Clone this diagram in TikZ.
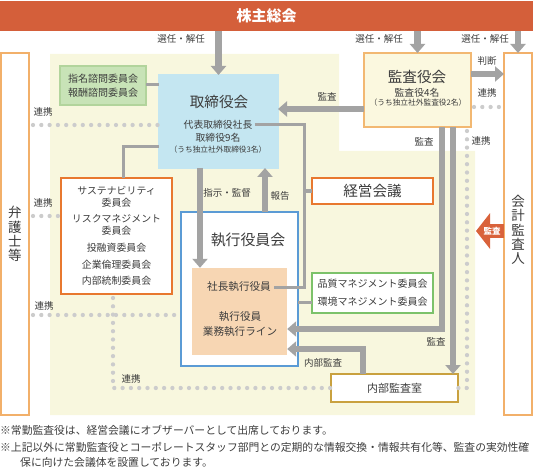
\documentclass[tikz,border=0pt]{standalone}
\usepackage{fontspec}
\setmainfont{Noto Sans CJK JP}
\usetikzlibrary{arrows.meta,calc}
\definecolor{topbar}{HTML}{D45F3A}
\definecolor{txt}{HTML}{3C3C3C}
\definecolor{bgy}{HTML}{F8F7DE}
\definecolor{ora}{HTML}{E8782F}
\definecolor{lora}{HTML}{F2B06A}
\definecolor{kfill}{HTML}{FBF8DF}
\definecolor{kbord}{HTML}{F2B872}
\definecolor{gfill}{HTML}{C8E3B7}
\definecolor{gbord}{HTML}{B2D49C}
\definecolor{gline}{HTML}{7CC26A}
\definecolor{bfill}{HTML}{C4E6F1}
\definecolor{bbord}{HTML}{5B9BD5}
\definecolor{peach}{HTML}{F7D6B3}
\definecolor{gold}{HTML}{C9A13F}
\definecolor{garr}{HTML}{A3A3A3}
\definecolor{dotc}{HTML}{CCCCCC}
\definecolor{acc}{HTML}{D9623B}
\begin{document}
\begin{tikzpicture}[x=1pt,y=-1pt,
  bx/.style={draw, line width=1.2pt, inner sep=0pt, outer sep=0pt},
  lbl/.style={font=\fontsize{9.5}{11}\selectfont, text=txt, inner sep=0pt},
  ttl/.style={font=\fontsize{14.6}{16}\selectfont, text=txt, inner sep=0pt},
  sml/.style={font=\fontsize{9.8}{12}\selectfont, text=txt, inner sep=0pt},
  tiny/.style={font=\fontsize{7.7}{9}\selectfont, text=txt, inner sep=0pt},
  garrow/.style={draw=garr, line width=6.5pt, -{Triangle[width=15pt,length=9pt]}},
  gline/.style={draw=garr, line width=6pt},
  conn/.style={draw=garr, line width=3pt},
  dots/.style={draw=dotc, line width=4.3pt, line cap=round, dash pattern=on 0pt off 8.3pt},
  note/.style={font=\fontsize{10.8}{13}\selectfont, text=txt, inner sep=0pt, anchor=west}
]
\useasboundingbox (0,0) rectangle (533,476);
% background
\fill[bgy] (50,54) -- (339,54) -- (339,151) -- (475,151) -- (475,415) -- (50,415) -- cycle;

% top bar
\node[fill=topbar, inner sep=0pt, minimum width=533pt, minimum height=30pt, text=white,
  font=\fontsize{15}{17}\selectfont\bfseries] (kabu) at (266.5,16) {株主総会};

% outer boxes
\node[bx, draw=lora, fill=white, minimum width=28pt, minimum height=362pt,
  align=center, font=\fontsize{13.5}{14.2}\selectfont, text=txt] (bengo) at (15,234) {弁\\護\\士\\等};
\node[bx, draw=lora, fill=white, minimum width=28pt, minimum height=362pt] (kaikei) at (518,234) {};
\node[align=center, font=\fontsize{13.5}{14.2}\selectfont, text=txt, inner sep=0pt] (kaikeiT) at (518,230) {会\\計\\監\\査\\人};

% boxes
\node[bx, draw=gbord, fill=gfill, minimum width=86pt, minimum height=39pt,
  align=center, font=\fontsize{10}{14}\selectfont, text=txt] (shimei) at (103,85.5) {指名諮問委員会\\報酬諮問委員会};
\node[bx, draw=bfill, fill=bfill, minimum width=119pt, minimum height=93pt] (tori) at (218.5,121.5) {};
\node[ttl] (toriT) at (219,102) {取締役会};
\node[sml] (daihyo) at (218,124.5) {代表取締役社長};
\node[sml] (tori9) at (218,138) {取締役9名};
\node[tiny] (tori3) at (218,150) {（うち独立社外取締役3名）};

\node[bx, draw=kbord, fill=kfill, minimum width=107pt, minimum height=74pt] (kansa) at (417.5,90) {};
\node[ttl] (kansaT) at (417,77) {監査役会};
\node[sml] (kansa4) at (417,93) {監査役4名};
\node[tiny] (kansa2) at (418,103) {（うち独立社外監査役2名）};

\node[bx, draw=ora, fill=white, minimum width=111pt, minimum height=116pt,
  align=center, font=\fontsize{9.9}{12}\selectfont, text=txt] (sus) at (116.5,236)
  {サステナビリティ\\委員会\\[4.2pt]リスクマネジメント\\委員会\\[4.6pt]投融資委員会\\[4.6pt]企業倫理委員会\\[4.6pt]内部統制委員会};

\node[bx, draw=ora, fill=white, minimum width=121pt, minimum height=26pt, ttl] (keiei) at (372.5,191) {経営会議};

\node[bx, draw=bbord, fill=white, minimum width=117pt, minimum height=154pt] (shikkou) at (239.5,289) {};
\node[font=\fontsize{14.9}{16}\selectfont, text=txt, inner sep=0pt] (shikkouT) at (248,240) {執行役員会};
\node[fill=peach, inner sep=0pt, minimum width=95pt, minimum height=87pt] (peach) at (239.5,311.5) {};
\node[font=\fontsize{10.6}{12}\selectfont, text=txt, inner sep=0pt] (shacho) at (239,287) {社長執行役員};
\node[font=\fontsize{10.6}{15}\selectfont, text=txt, inner sep=0pt, align=center] (gyomu) at (240,324.5) {執行役員\\業務執行ライン};

\node[bx, draw=gline, fill=white, minimum width=121pt, minimum height=40pt,
  align=center, font=\fontsize{10}{18}\selectfont, text=txt] (hin) at (372.5,293) {品質マネジメント委員会\\環境マネジメント委員会};

\node[bx, draw=gold, fill=white, minimum width=127pt, minimum height=28pt,
  font=\fontsize{11}{13}\selectfont, text=txt] (naibu) at (394.5,388) {内部監査室};

% dotted links
\draw[dots] ($(bengo.east |- 0,125)+(4,0)$) -- (tori.west |- 0,125);
\draw[dots] ($(bengo.east |- 0,216)+(4,0)$) -- (sus.west |- 0,216);
\draw[dots] ($(bengo.east |- 0,315)+(4,0)$) -- (shikkou.west |- 0,315);
\draw[dots] ($(sus.south -| 113,0)+(0,4)$) -- (113,388) -- (naibu.west |- 0,388);
\draw[dots] ($(kansa.south -| 467,0)+(0,4)$) -- (467,388) -- (naibu.east |- 0,388);
\draw[dots] ($(kansa.east |- 0,107)+(3,0)$) -- (kaikei.west |- 0,107);

% thin connectors
\draw[conn] (shimei.east |- 0,85) -- (tori.west |- 0,85);
\draw[conn] (sus.north -| 123,0) -- (123,147) -- (tori.west |- 0,147);
\draw[conn] ([xshift=2pt]daihyo.east) -| (shacho.east -| 304,0) -- ([xshift=3pt]shacho.east);
\draw[conn] (keiei.west -| 304,0) -- (keiei.west);
\draw[conn] (shikkou.east |- 0,302) -- (hin.west |- 0,302);

% thick gray arrows
\draw[garrow] (kabu.south -| tori.north) -- (tori.north);
\draw[garrow] (kabu.south -| kansa.north) -- (kansa.north);
\draw[garrow] (kabu.south -| kaikei.north) -- (kaikei.north);
\draw[garrow] (kansa.west |- 0,109) -- (tori.east |- 0,109);
\draw[garrow] (kansa.east |- 0,74) -- (kaikei.west |- 0,74);
\draw[garrow] (tori.south -| 200,0) -- (peach.north -| 200,0);
\draw[garrow] (shikkou.north -| 265,0) -- (tori.south -| 265,0);
\draw[garrow] (kansa.south -| 442,0) -- (442,329) -- (peach.east |- 0,329);
\draw[garrow] (kansa.south -| 453,0) -- (naibu.north -| 453,0);
\draw[garrow] (naibu.north -| 363,0) -- (363,349) -- (peach.east |- 0,349);

% orange audit arrow
\draw[draw=acc, line width=14pt, -{Triangle[width=35pt,length=14pt]}] (kaikei.west |- 0,231) -- (476,231);
\node[text=white, inner sep=0pt, font=\fontsize{8.5}{10}\selectfont\bfseries] (accT) at (492,231) {監査};

% labels
\node[lbl] (l1) at (181,39) {選任・解任};
\node[lbl] (l2) at (379,39) {選任・解任};
\node[lbl] (l3) at (485,39) {選任・解任};
\node[lbl] (l4) at (327,97) {監査};
\node[lbl] (l5) at (487,61) {判断};
\node[lbl] (l6) at (487,93) {連携};
\node[lbl] (l7) at (43,112) {連携};
\node[lbl] (l8) at (43,203) {連携};
\node[lbl] (l9) at (44,306) {連携};
\node[lbl] (l10) at (131,379) {連携};
\node[lbl] (l11) at (481,141) {連携};
\node[lbl] (l12) at (227,193) {指示・監督};
\node[lbl] (l13) at (280,196) {報告};
\node[lbl] (l14) at (424,142) {監査};
\node[lbl] (l15) at (436,342) {監査};
\node[lbl] (l16) at (323,363) {内部監査};

% notes
\node[note] (n1) at (0,430) {※常勤監査役は、経営会議にオブザーバーとして出席しております。};
\node[note] (n2) at (0,447) {※上記以外に常勤監査役とコーポレートスタッフ部門との定期的な情報交換・情報共有化等、監査の実効性確};
\node[note] (n3) at (20,462) {保に向けた会議体を設置しております。};
\end{tikzpicture}
\end{document}
